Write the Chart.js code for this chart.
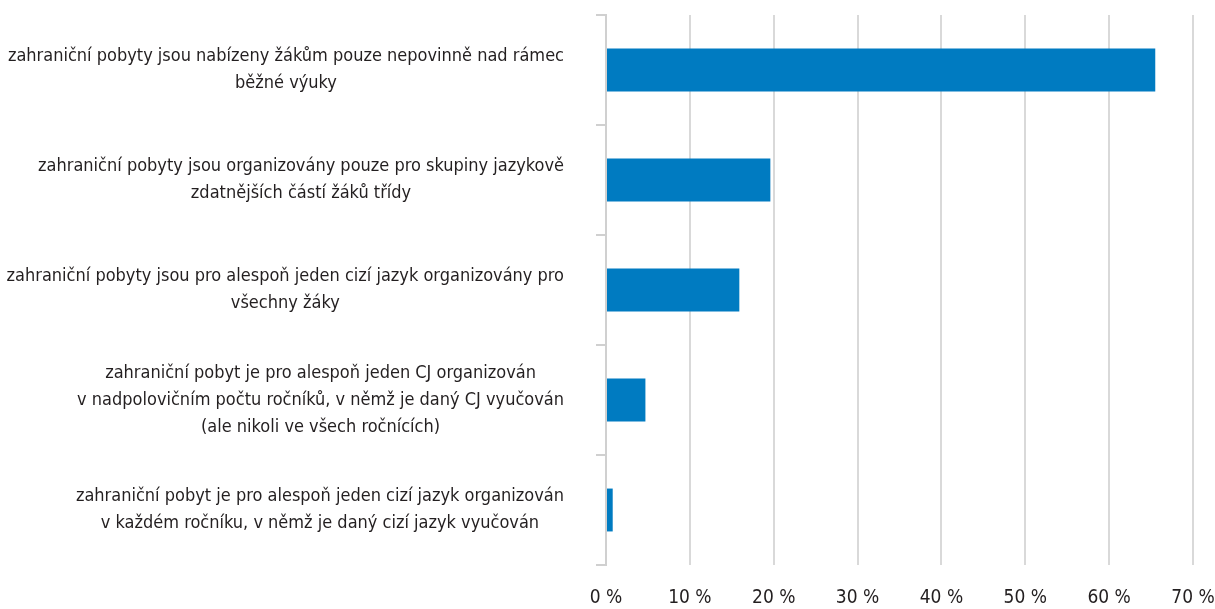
<!DOCTYPE html>
<html>
<head>
<meta charset="utf-8">
<script src="https://cdn.jsdelivr.net/npm/chart.js@4"></script>
<style>
  html, body { margin: 0; padding: 0; background: #fff; }
  #wrap { width: 1215px; height: 609px; }
</style>
</head>
<body>
<div id="wrap"><canvas id="chart" width="1215" height="609"></canvas></div>
<script>
// categories, each one split into the lines shown in the picture
const categories = [
    ['zahraniční pobyty jsou nabízeny žákům pouze nepovinně nad rámec', 'běžné výuky'],
    ['zahraniční pobyty jsou organizovány pouze pro skupiny jazykově', 'zdatnějších částí žáků třídy'],
    ['zahraniční pobyty jsou pro alespoň jeden cizí jazyk organizovány pro', 'všechny žáky'],
    ['zahraniční pobyt je pro alespoň jeden CJ organizován', 'v nadpolovičním počtu ročníků, v němž je daný CJ vyučován', '(ale nikoli ve všech ročnících)'],
    ['zahraniční pobyt je pro alespoň jeden cizí jazyk organizován', 'v každém ročníku, v němž je daný cizí jazyk vyučován']
];
const values = [65.5, 19.6, 15.9, 4.7, 0.8];
const xTicks = [0, 10, 20, 30, 40, 50, 60, 70];

const FONT = '"Liberation Sans Narrow", "DejaVu Sans Condensed", sans-serif';
const TEXT = '#231f20';

// draws the category labels: lines centred inside each block, blocks right-aligned
const labelPlugin = {
    id: 'blockLabels',
    afterDraw(chart) {
        const ctx = chart.ctx;
        const yScale = chart.scales.y;
        const rightX = yScale.right - 42;
        const lh = 27;
        ctx.save();
        ctx.font = '18px ' + FONT;
        ctx.fillStyle = TEXT;
        ctx.textAlign = 'center';
        ctx.textBaseline = 'middle';
        categories.forEach((lines, i) => {
            const y = yScale.getPixelForValue(i);
            const w = Math.max(...lines.map(l => ctx.measureText(l).width));
            const cx = rightX - w / 2;
            lines.forEach((line, j) => {
                ctx.fillText(line, cx, y + (j - (lines.length - 1) / 2) * lh);
            });
        });
        ctx.restore();
    }
};

new Chart(document.getElementById('chart'), {
    type: 'bar',
    data: {
        labels: categories.map(c => c.join(' ')),
        datasets: [{
            data: values,
            backgroundColor: '#007bc1',
            borderWidth: 0,
            categoryPercentage: 1,
            barPercentage: 0.39
        }]
    },
    options: {
        indexAxis: 'y',
        responsive: false,
        animation: false,
        layout: { padding: { top: 15, right: 22, left: 0, bottom: 0 } },
        plugins: {
            legend: { display: false },
            tooltip: { enabled: false }
        },
        scales: {
            x: {
                min: 0,
                max: 70,
                afterBuildTicks: scale => { scale.ticks = xTicks.map(v => ({ value: v })); },
                afterFit: scale => {
                    scale.height = 44;
                    scale.paddingRight = 0;
                    scale.paddingLeft = 0;
                },
                grid: { color: '#d9d9d9', lineWidth: 2, drawTicks: false },
                border: { display: false },
                ticks: {
                    padding: 22,
                    color: TEXT,
                    font: { family: FONT, size: 19 },
                    callback: v => v + ' %'
                }
            },
            y: {
                afterFit: scale => { scale.width = 606; },
                grid: {
                    offset: true,
                    drawOnChartArea: false,
                    drawTicks: true,
                    tickLength: 10,
                    color: '#d0d0d0',
                    lineWidth: 2
                },
                border: { display: true, color: '#d0d0d0', width: 2 },
                ticks: { display: false }
            }
        }
    },
    plugins: [labelPlugin]
});
</script>
</body>
</html>
